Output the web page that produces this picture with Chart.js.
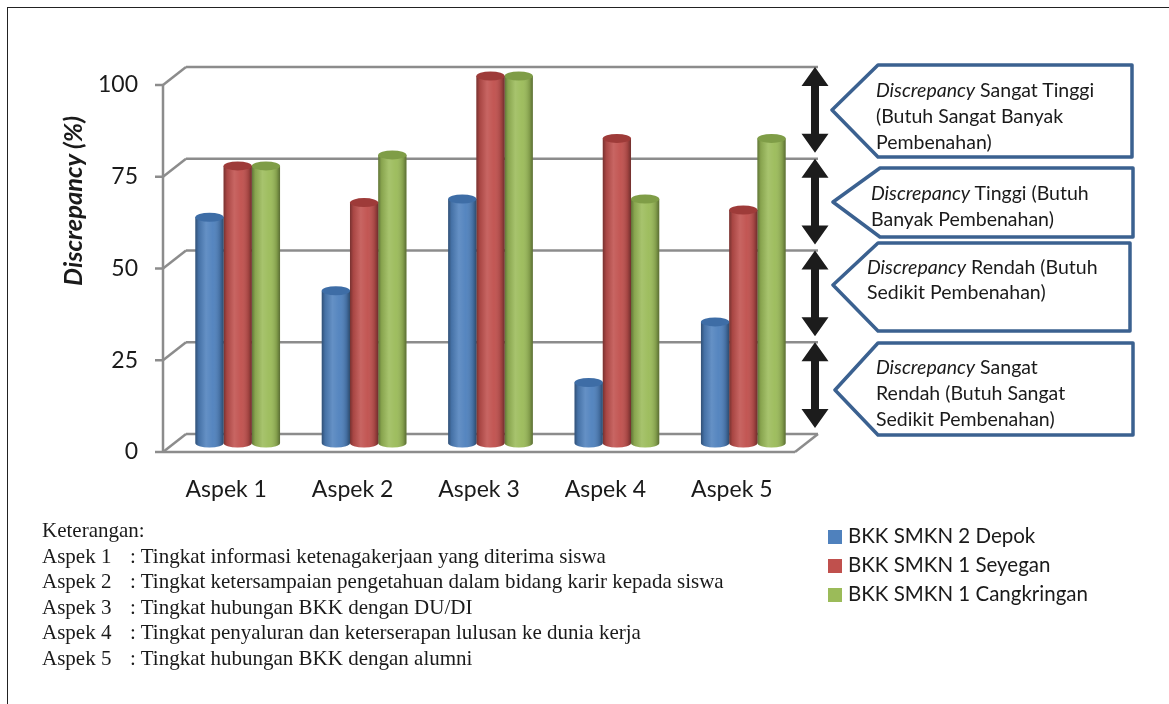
<!DOCTYPE html>
<html>
<head>
<meta charset="utf-8">
<script src="https://cdn.jsdelivr.net/npm/chart.js@4.4.1/dist/chart.umd.min.js"></script>
<style>
  body { margin: 0; width: 1169px; height: 704px; overflow: hidden; position: relative; background: #fff; font-family: Lato, sans-serif; color: #1a1a1a; }
  #frame { position: absolute; left: 7px; top: 7px; width: 1200px; height: 760px; border: 1px solid #222; }
  #chart { position: absolute; left: 0; top: 0; }
  #ytitle { position: absolute; left: 72px; top: 201px; transform: translate(-50%, -50%) rotate(-90deg); font: italic bold 25.5px Lato; white-space: nowrap; }
  #boxes { position: absolute; left: 0; top: 0; }
  .note { position: absolute; font-size: 19.5px; line-height: 26px; white-space: nowrap; }
  .note i { font-style: italic; }
  #legend { position: absolute; left: 828px; top: 521px; font-size: 20.5px; }
  #legend div { height: 29px; line-height: 29px; white-space: nowrap; }
  #legend span { display: inline-block; width: 14px; height: 14px; margin-right: 6px; vertical-align: -1px; }
  #keterangan { position: absolute; left: 42px; top: 518px; font: 21px "Liberation Serif", serif; line-height: 25.6px; white-space: nowrap; }
  #keterangan b { font-weight: normal; display: inline-block; width: 88px; }
</style>
</head>
<body>
<div id="frame"></div>
<canvas id="chart" width="1169" height="704"></canvas>
<div id="ytitle">Discrepancy (%)</div>
<svg id="boxes" width="1169" height="704">
  <g fill="#fff" stroke="#3b6190" stroke-width="3.5" stroke-linejoin="round">
    <polygon points="832,110 878,65 1132,65 1132,157 878,157"/>
    <polygon points="833,202 880,168 1133,168 1133,237 880,237"/>
    <polygon points="833,285 878,243 1130,243 1130,331 878,331"/>
    <polygon points="835,390 878,343 1133,343 1133,435 878,435"/>
  </g>
</svg>
<div class="note" style="left:876px;top:77px"><i>Discrepancy</i> Sangat Tinggi<br>(Butuh Sangat Banyak<br>Pembenahan)</div>
<div class="note" style="left:871px;top:180px"><i>Discrepancy</i> Tinggi (Butuh<br>Banyak Pembenahan)</div>
<div class="note" style="left:867px;top:254px;line-height:25px"><i>Discrepancy</i> Rendah (Butuh<br>Sedikit Pembenahan)</div>
<div class="note" style="left:876px;top:354px"><i>Discrepancy</i> Sangat<br>Rendah (Butuh Sangat<br>Sedikit Pembenahan)</div>
<div id="legend"></div>
<div id="keterangan"></div>
<script>
const categories = ['Aspek 1', 'Aspek 2', 'Aspek 3', 'Aspek 4', 'Aspek 5'];
const seriesNames = ['BKK SMKN 2 Depok', 'BKK SMKN 1 Seyegan', 'BKK SMKN 1 Cangkringan'];
const depok = [61.5, 41.5, 66.5, 16.5, 33];
const seyegan = [75.5, 65.5, 100, 83, 63.5];
const cangkringan = [75.5, 78.5, 100, 66.5, 83];
const yTicks = [0, 25, 50, 75, 100];
const bandLimits = [0, 25, 50, 75, 100];
const aspekNotes = [
    'Tingkat informasi ketenagakerjaan yang diterima siswa',
    'Tingkat ketersampaian pengetahuan dalam bidang karir kepada siswa',
    'Tingkat hubungan BKK dengan DU/DI',
    'Tingkat penyaluran dan keterserapan lulusan ke dunia kerja',
    'Tingkat hubungan BKK dengan alumni'
];

const seriesColors = ['#4f81bd', '#c0504d', '#9bbb59'];
const capColors = ['#3e6da6', '#9e3b39', '#7f9d47'];

// depth offset of the 3D box (bars sit half way between front and back)
const DX = 11.5;
const DY = 9;

function line(ctx, x1, y1, x2, y2) {
    ctx.beginPath();
    ctx.moveTo(x1, y1);
    ctx.lineTo(x2, y2);
    ctx.stroke();
}

const frame3d = {
    id: 'frame3d',
    beforeDatasetsDraw(chart) {
        const { ctx, chartArea: a, scales: { y } } = chart;
        ctx.save();
        ctx.strokeStyle = '#8c8c8c';
        ctx.lineWidth = 2.5;
        yTicks.forEach(v => {
            const py = y.getPixelForValue(v);
            line(ctx, a.left + DX, py - DY, a.right + DX, py - DY);
            line(ctx, a.left - DX, py + DY, a.left + DX, py - DY);
            line(ctx, a.left - DX - 8, py + DY, a.left - DX, py + DY);
        });
        const p0 = y.getPixelForValue(0);
        const p100 = y.getPixelForValue(100);
        line(ctx, a.left - DX, p0 + DY, a.left - DX, p100 + DY);
        line(ctx, a.left - DX, p0 + DY, a.right - DX, p0 + DY);
        line(ctx, a.right - DX, p0 + DY, a.right + DX, p0 - DY);
        ctx.restore();
    }
};

const cylinders = {
    id: 'cylinders',
    afterDatasetsDraw(chart) {
        const ctx = chart.ctx;
        chart.data.datasets.forEach((ds, di) => {
            chart.getDatasetMeta(di).data.forEach(el => {
                const { x, y, base, width } = el.getProps(['x', 'y', 'base', 'width'], true);
                const l = x - width / 2, r = x + width / 2, ry = 4.5;
                const g = ctx.createLinearGradient(l, 0, r, 0);
                g.addColorStop(0, 'rgba(0,0,0,0.38)');
                g.addColorStop(0.12, 'rgba(0,0,0,0.12)');
                g.addColorStop(0.38, 'rgba(255,255,255,0.12)');
                g.addColorStop(0.62, 'rgba(255,255,255,0.04)');
                g.addColorStop(0.88, 'rgba(0,0,0,0.16)');
                g.addColorStop(1, 'rgba(0,0,0,0.42)');
                ctx.save();
                ctx.fillStyle = g;
                ctx.fillRect(l, y, width, base - y);
                ctx.beginPath();
                ctx.ellipse(x, base, width / 2, ry, 0, 0, Math.PI);
                ctx.fillStyle = seriesColors[di];
                ctx.fill();
                ctx.fillStyle = g;
                ctx.fill();
                ctx.beginPath();
                ctx.ellipse(x, y, width / 2, ry, 0, 0, Math.PI * 2);
                ctx.fillStyle = capColors[di];
                ctx.fill();
                ctx.restore();
            });
        });
    }
};

const arrows = {
    id: 'arrows',
    afterDraw(chart) {
        const { ctx, chartArea: a, scales: { y } } = chart;
        const x = a.right + DX - 3;
        ctx.save();
        ctx.fillStyle = '#1c1c1c';
        for (let i = 0; i < bandLimits.length - 1; i++) {
            const top = y.getPixelForValue(bandLimits[i + 1]) - DY;
            const bot = y.getPixelForValue(bandLimits[i]) - DY - 6;
            const h = 19, hw = 13.5, sw = 4;
            ctx.beginPath();
            ctx.moveTo(x, top);
            ctx.lineTo(x + hw, top + h);
            ctx.lineTo(x + sw, top + h);
            ctx.lineTo(x + sw, bot - h);
            ctx.lineTo(x + hw, bot - h);
            ctx.lineTo(x, bot);
            ctx.lineTo(x - hw, bot - h);
            ctx.lineTo(x - sw, bot - h);
            ctx.lineTo(x - sw, top + h);
            ctx.lineTo(x - hw, top + h);
            ctx.closePath();
            ctx.fill();
        }
        ctx.restore();
    }
};

const values = [depok, seyegan, cangkringan];

new Chart(document.getElementById('chart'), {
    type: 'bar',
    data: {
        labels: categories,
        datasets: seriesNames.map((name, i) => ({
            label: name,
            data: values[i],
            backgroundColor: seriesColors[i],
            borderWidth: 0,
            categoryPercentage: 0.67,
            barPercentage: 1.0
        }))
    },
    options: {
        responsive: false,
        animation: false,
        layout: { padding: { left: 0, top: 76, right: 362.5, bottom: 201 } },
        plugins: { legend: { display: false }, tooltip: { enabled: false } },
        scales: {
            x: {
                grid: { display: false },
                border: { display: false },
                ticks: { color: '#1a1a1a', font: { family: 'Lato', size: 23 }, labelOffset: -DX, padding: 25, maxRotation: 0, autoSkip: false },
                afterFit: s => { s.height = 60; }
            },
            y: {
                min: 0,
                max: 100,
                grid: { display: false },
                border: { display: false },
                ticks: { stepSize: 25, color: '#1a1a1a', font: { family: 'Lato', size: 23 }, labelOffset: DY, padding: 28.5 },
                afterFit: s => { s.width = 174.5; }
            }
        }
    },
    plugins: [frame3d, cylinders, arrows]
});

document.getElementById('legend').innerHTML = seriesNames.map((n, i) =>
    '<div><span style="background:' + seriesColors[i] + '"></span>' + n + '</div>').join('');

document.getElementById('keterangan').innerHTML = '<div>Keterangan:</div>' + categories.map((c, i) =>
    '<div><b>' + c + '</b>: ' + aspekNotes[i] + '</div>').join('');
</script>
</body>
</html>
